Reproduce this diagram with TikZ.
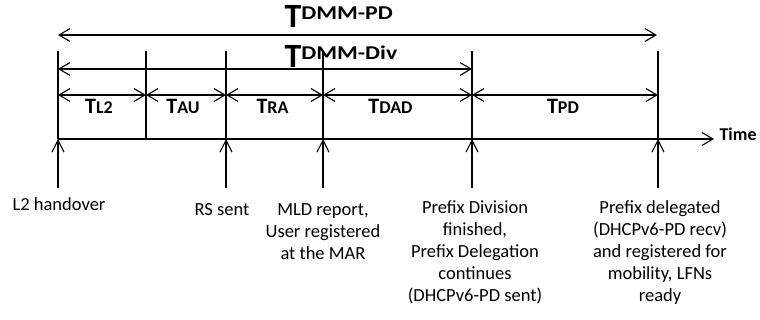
\documentclass[tikz,border=0pt]{standalone}
\usepackage{graphicx}
\usepackage{fontspec}
\setmainfont{Carlito}
\usetikzlibrary{arrows.meta,calc}

% big interval name: T with a raised tag
\newcommand{\tbig}[1]{{\fontsize{34}{34}\selectfont\bfseries T}\raisebox{8.5pt}{\scalebox{1.22}[1]{\fontsize{19.5}{20}\selectfont\bfseries #1}}}
% segment name: T with a smaller tag on the baseline
\newcommand{\tseg}[1]{{\fontsize{22}{22}\selectfont T}{\fontsize{18}{18}\selectfont #1}}

\begin{document}
\begin{tikzpicture}[x=1pt, y=-1pt, line width=1.1pt, font=\fontsize{18.5}{22}\selectfont,
		>={Straight Barb[length=11pt,width=13pt]},
		evarrow/.style={->, >={Straight Barb[length=12pt,width=12pt]}},
		evlbl/.style={anchor=north, align=center, inner sep=0pt},
		seglbl/.style={anchor=base, inner sep=0pt, font=\bfseries}]
		\useasboundingbox (0,0) rectangle (760,320);
		% ticks on the time axis
		\foreach \n/\x in {0/58, 1/146, 2/226, 3/323, 4/472, 5/658} {
			\coordinate (a\n) at (\x,51);   % top of the tick
			\coordinate (b\n) at (\x,139);  % on the time axis
			\coordinate (e\n) at (\x,188);  % foot of the event arrow
		}
		% time axis
		\coordinate (tend) at (714,139);
		\draw[->] (b0) -- (tend);
		\node[anchor=west, inner sep=1pt, font=\fontsize{18}{18}\selectfont\bfseries] (time) at ($(tend)+(4,-5)$) {Time};
		\foreach \n in {0,...,5}
			\draw (a\n) -- (b\n);
		%%% whole handover: T DMM-PD
		\coordinate (pdL) at (58,35);
		\coordinate (pdR) at (657,35);
		\draw[<->] (pdL) -- (pdR);
		\node[anchor=north west, inner sep=0pt] (tpd) at (284,5) {\tbig{DMM-PD}};
		%%% up to prefix division: T DMM-Div
		\draw[<->] ($(a0)+(0,18)$) -- ($(a4)+(0,18)$);
		\node[anchor=north west, inner sep=0pt] (tdiv) at (284,45) {\tbig{DMM-Div}};
		%%% segments
		\draw[<->] ($(a0)+(0,44)$) -- ($(a1)+(0,44)$);
		\draw[<->] ($(a1)+(0,44)$) -- ($(a2)+(0,44)$);
		\draw[<->] ($(a2)+(0,44)$) -- ($(a3)+(0,44)$);
		\draw[<->] ($(a3)+(0,44)$) -- ($(a4)+(0,44)$);
		\draw[<->] ($(a4)+(0,44)$) -- ($(a5)+(0,44)$);
		\node[seglbl] (sl2) at ($(b0)!0.5!(b1)+(-3,-25)$) {\tseg{L2}};
		\node[seglbl] (sau) at ($(b1)!0.5!(b2)+(-3,-25)$) {\tseg{AU}};
		\node[seglbl] (sra) at ($(b2)!0.5!(b3)+(-2,-25)$) {\tseg{RA}};
		\node[seglbl] (sdad) at ($(b3)!0.5!(b4)+(-7,-25)$) {\tseg{DAD}};
		\node[seglbl] (spd) at ($(b4)!0.5!(b5)+(-2,-25)$) {\tseg{PD}};
		%%% events
		\foreach \n in {0,2,3,4,5}
			\draw[evarrow] (e\n) -- (b\n);
		\node[evlbl] (ev0) at (59,197) {L2 handover};
		\node[evlbl] (ev2) at (222,203) {RS sent};
		\node[evlbl] (ev3) at (323,203) {MLD report,\\User registered\\at the MAR};
		\node[evlbl] (ev4) at (475,200) {Prefix Division\\finished,\\Prefix Delegation\\continues\\(DHCPv6-PD sent)};
		\node[evlbl] (ev5) at (660,200) {Prefix delegated\\(DHCPv6-PD recv)\\and registered for\\mobility, LFNs\\ready};
	\end{tikzpicture}
\end{document}
